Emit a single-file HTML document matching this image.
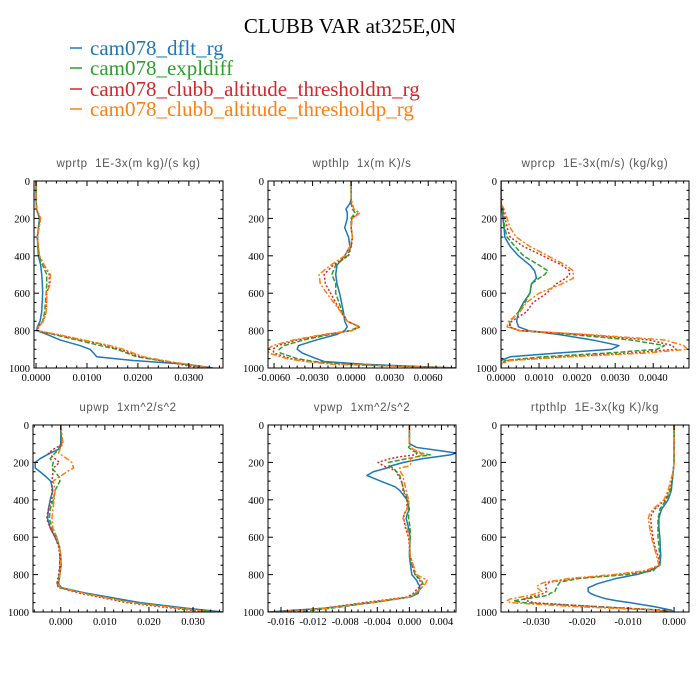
<!DOCTYPE html>
<html><head><meta charset="utf-8"><style>
html,body{margin:0;padding:0;background:#fff;}
svg{display:block;}
text{white-space:pre;}
</style></head><body>
<svg id="chart" width="700" height="700" viewBox="0 0 700 700" xmlns="http://www.w3.org/2000/svg">
<rect width="700" height="700" fill="#fff"/>
<text x="350" y="33" text-anchor="middle" font-family="Liberation Serif, serif" font-size="21" fill="#000">CLUBB VAR at325E,0N</text>
<g font-family="Liberation Serif, serif" font-size="21">
<g><line x1="70" y1="48" x2="82" y2="48" stroke="#1f77b4" stroke-width="1.5"/><text x="90" y="55" fill="#1f77b4">cam078_dflt_rg</text></g>
<g><line x1="70" y1="68" x2="82" y2="68" stroke="#2ca02c" stroke-width="1.5"/><text x="90" y="75" fill="#2ca02c">cam078_expldiff</text></g>
<g><line x1="70" y1="89" x2="82" y2="89" stroke="#d62728" stroke-width="1.5"/><text x="90" y="96" fill="#d62728">cam078_clubb_altitude_thresholdm_rg</text></g>
<g><line x1="70" y1="109" x2="82" y2="109" stroke="#ff7f0e" stroke-width="1.5"/><text x="90" y="116" fill="#ff7f0e">cam078_clubb_altitude_thresholdp_rg</text></g>
</g>
</svg>
<script>
// ---- panel 1: wprtp ----
const p1Levels = [0,100,150,200,300,400,450,500,550,600,700,750,780,800,820,850,880,900,920,940,960,980,1000];
const p1Blue = [0,0,0.0001,0.00066,0.00026,0.00046,0.00092,0.00111,0.00124,0.0013,0.00111,0.00079,0.00026,0.00013,0.0021,0.0047,0.0086,0.0106,0.0113,0.0119,0.0191,0.0296,0.0348];
const p1Green = [0,0,0.0001,0.0008,0.00026,0.0006,0.0013,0.0021,0.0021,0.002,0.0017,0.0013,0.0004,0.0002,0.0034,0.008,0.0126,0.0159,0.0178,0.0198,0.0244,0.029,0.0335];
const p1Red = [0,0,0.00013,0.0009,0.00026,0.00066,0.0016,0.0026,0.0026,0.0021,0.002,0.0014,0.00046,0.00026,0.0037,0.009,0.0139,0.0165,0.0185,0.0204,0.0244,0.0283,0.0322];
const p1Orange = [0,0,0.00013,0.0009,0.00026,0.00066,0.0016,0.0028,0.0028,0.0021,0.002,0.0014,0.00046,0.00026,0.0041,0.0093,0.0145,0.0172,0.0191,0.0211,0.025,0.0296,0.0342];
const p1Ticks = [0,0.01,0.02,0.03];
const p1TickLabels = ["0.0000","0.0100","0.0200","0.0300"];
// ---- panel 2: wpthlp ----
const p2Levels = [0,100,120,150,170,200,250,300,350,400,450,500,550,600,700,750,780,800,820,850,880,900,920,950,965,980,1000];
const p2Blue = [0,0,-0.0001,-0.0004,-0.0003,-0.0003,-0.0005,-0.0002,-0.0001,-0.0005,-0.0011,-0.0012,-0.0011,-0.0009,-0.0006,-0.0005,-0.0003,-0.0005,-0.0011,-0.0027,-0.0041,-0.0042,-0.0038,-0.0027,-0.0021,0.001,0.0082];
const p2Green = [0,0,0,0.0001,0.0003,0,0,0.0001,0,-0.0003,-0.0012,-0.0015,-0.0012,-0.0012,-0.0007,-0.0003,0.0006,-0.0001,-0.0016,-0.0037,-0.0052,-0.0056,-0.0055,-0.0042,-0.0029,-0.0003,0.0082];
const p2Red = [0,0,0.00005,0.0002,0.0006,0.00005,0,0.0001,0,-0.0002,-0.0014,-0.0021,-0.002,-0.0016,-0.0008,-0.0003,0.0007,0.00005,-0.0019,-0.0042,-0.0057,-0.0061,-0.006,-0.0047,-0.0034,-0.0011,0.0082];
const p2Orange = [0,0,0.0001,0.0002,0.0007,0.0001,0,0.0001,-0.0001,-0.0005,-0.0016,-0.0025,-0.0024,-0.0019,-0.0008,-0.0003,0.0007,0.00005,-0.0021,-0.0045,-0.0061,-0.0065,-0.0064,-0.005,-0.0036,-0.0014,0.0082];
const p2Ticks = [-0.006,-0.003,0,0.003,0.006];
const p2TickLabels = ["-0.0060","-0.0030","0.0000","0.0030","0.0060"];
// ---- panel 3: wprcp ----
const p3Levels = [0,120,150,200,250,300,350,400,450,480,500,520,550,600,650,700,750,780,800,820,850,880,900,920,940,960,980,1000];
const p3Blue = [0,0,0.00003,0.00005,0.00008,0.0001,0.00024,0.00046,0.00076,0.00088,0.00091,0.00093,0.0008,0.00076,0.00059,0.00046,0.00041,0.00046,0.00072,0.0015,0.0024,0.0031,0.0029,0.0015,0.00024,0,0,0];
const p3Green = [0,0,0.00005,0.00007,0.0001,0.00016,0.00037,0.00059,0.001,0.00123,0.00115,0.001,0.0008,0.00076,0.00063,0.00046,0.00024,0.00022,0.00046,0.0018,0.0034,0.0043,0.0041,0.0028,0.0011,0.00011,0,0];
const p3Red = [0,0,0.00005,0.00011,0.00016,0.00024,0.00059,0.0011,0.0016,0.0018,0.0018,0.0017,0.00145,0.0012,0.00084,0.00067,0.00028,0.00022,0.0005,0.00205,0.0039,0.0045,0.0046,0.0034,0.0016,0.00016,0,0];
const p3Orange = [0,0,0.00008,0.00016,0.00024,0.0004,0.00076,0.00123,0.0017,0.0019,0.0019,0.0019,0.0016,0.001,0.00067,0.0005,0.0002,0.00016,0.0005,0.0022,0.0043,0.0048,0.0049,0.0038,0.0018,0.00024,0,0];
const p3Ticks = [0,0.001,0.002,0.003,0.004];
const p3TickLabels = ["0.0000","0.0010","0.0020","0.0030","0.0040"];
// ---- panel 4: upwp ----
const p4Levels = [0,100,130,150,180,200,230,250,280,300,350,400,450,500,550,600,650,700,750,800,850,870,900,950,980,1000];
const p4Blue = [0,0,-0.0005,-0.0024,-0.0047,-0.0058,-0.0058,-0.0047,-0.0032,-0.0023,-0.0018,-0.0024,-0.0028,-0.003,-0.0024,-0.0013,-0.0003,0,0.0001,-0.0002,-0.0005,0.0002,0.0059,0.018,0.0286,0.0368];
const p4Green = [0,0.0002,-0.0003,-0.0013,-0.0024,-0.0017,-0.002,-0.0013,-0.0003,-0.0002,-0.0013,-0.0017,-0.0024,-0.0026,-0.002,-0.0009,-0.0003,-0.0002,-0.0002,-0.0003,-0.0008,-0.0002,0.0052,0.0165,0.0271,0.0355];
const p4Red = [0,0.0005,-0.0017,-0.0028,-0.0013,-0.0003,-0.0017,-0.0018,-0.0019,-0.002,-0.002,-0.002,-0.0028,-0.0032,-0.0024,-0.0013,-0.0005,-0.0002,-0.0002,-0.0005,-0.0009,-0.0005,0.0044,0.015,0.0256,0.0332];
const p4Orange = [0,0.0005,-0.0002,-0.0005,0.0014,0.0025,0.0029,0.0014,-0.0005,-0.0017,-0.0013,-0.0015,-0.0018,-0.002,-0.0018,-0.0009,-0.0003,0,0,-0.0002,-0.0005,-0.0002,0.0052,0.0161,0.0271,0.0347];
const p4Ticks = [0,0.01,0.02,0.03];
const p4TickLabels = ["0.000","0.010","0.020","0.030"];
// ---- panel 5: vpwp ----
const p5Levels = [0,100,120,140,150,160,170,180,200,220,230,250,260,270,300,330,350,400,450,480,500,550,600,700,800,830,850,860,880,900,920,950,980,1000];
const p5Blue = [0,0,0.0009,0.0042,0.0058,0.0051,0.0034,0.0017,-0.0007,-0.0024,-0.0028,-0.0045,-0.0049,-0.0053,-0.0036,-0.0018,-0.0012,-0.0003,0,-0.0003,-0.0004,-0.0001,0.0001,0,0.0003,0.0009,0.0011,0.0013,0.0012,0.0011,0.0001,-0.0049,-0.0107,-0.0177];
const p5Green = [0,0,-0.0001,0.0005,0.0013,0.0026,0.0009,-0.0003,-0.0026,-0.0025,-0.002,-0.0016,-0.0014,-0.0012,-0.001,-0.0008,-0.0007,-0.0001,-0.0001,-0.0001,-0.0001,0.0001,0.0001,0,0.0007,0.0015,0.0017,0.0017,0.0013,0.0009,0.0001,-0.0045,-0.0099,-0.014];
const p5Red = [0,0,0.0001,0.0009,0.001,0.0007,-0.0012,-0.0024,-0.0039,-0.0032,-0.0024,-0.0016,-0.0015,-0.0014,-0.001,-0.0008,-0.0008,-0.0003,-0.0003,-0.0007,-0.0007,-0.0005,-0.0001,0.0001,0.0007,0.0013,0.0015,0.0014,0.0009,0.0005,-0.0003,-0.0057,-0.0107,-0.0169];
const p5Orange = [0,0,0.0001,0.0009,0.0017,0.0015,0.0009,0.0001,0.0003,-0.0001,-0.0012,-0.0011,-0.001,-0.0008,-0.0007,-0.0005,-0.0004,-0.0001,-0.0003,-0.0007,-0.0008,-0.0003,0,0.0001,0.0009,0.0022,0.002,0.0017,0.0013,0.0007,0.0001,-0.0049,-0.0103,-0.0165];
const p5Ticks = [-0.016,-0.012,-0.008,-0.004,0,0.004];
const p5TickLabels = ["-0.016","-0.012","-0.008","-0.004","0.000","0.004"];
// ---- panel 6: rtpthlp ----
const p6Levels = [0,200,250,300,350,400,450,480,500,550,600,650,700,750,780,800,820,840,850,860,870,880,890,900,910,920,930,940,950,970,990,1000];
const p6Blue = [0,0,-0.0002,-0.0004,-0.0006,-0.0013,-0.0027,-0.0031,-0.0033,-0.0033,-0.0031,-0.003,-0.0029,-0.0031,-0.0053,-0.0082,-0.0125,-0.0154,-0.0168,-0.0177,-0.0187,-0.0187,-0.0187,-0.0182,-0.0173,-0.0161,-0.0147,-0.0125,-0.0096,-0.0046,-0.0006,0];
const p6Green = [0,0,-0.0002,-0.0004,-0.0008,-0.0017,-0.0031,-0.0033,-0.0035,-0.0035,-0.0035,-0.0033,-0.0031,-0.0033,-0.0046,-0.0103,-0.0205,-0.0248,-0.0251,-0.0254,-0.0255,-0.0258,-0.0259,-0.027,-0.0273,-0.0296,-0.0324,-0.0349,-0.0327,-0.0176,-0.0024,0];
const p6Red = [0,0,-0.0002,-0.0006,-0.0011,-0.002,-0.0042,-0.0049,-0.0051,-0.0049,-0.0046,-0.0042,-0.0035,-0.0031,-0.006,-0.0125,-0.0212,-0.027,-0.0278,-0.0281,-0.0279,-0.0277,-0.0277,-0.0284,-0.0295,-0.0313,-0.0327,-0.032,-0.0306,-0.0176,-0.0031,0];
const p6Orange = [0,0,-0.0002,-0.0008,-0.0013,-0.0022,-0.0046,-0.0054,-0.0056,-0.0053,-0.0049,-0.0044,-0.0038,-0.0033,-0.0064,-0.0132,-0.0226,-0.028,-0.0291,-0.0297,-0.0299,-0.0293,-0.0288,-0.0299,-0.0313,-0.0334,-0.0356,-0.0364,-0.0356,-0.0226,-0.0038,0];
const p6Ticks = [-0.03,-0.02,-0.01,0];
const p6TickLabels = ["-0.030","-0.020","-0.010","0.000"];

const yTicks = [0,200,400,600,800,1000];
const yTickLabels = ["0","200","400","600","800","1000"];

const NS = "http://www.w3.org/2000/svg";
const svg = document.getElementById("chart");
function mk(tag, attrs, parent){ const e=document.createElementNS(NS,tag); for(const k in attrs) e.setAttribute(k,attrs[k]); (parent||svg).appendChild(e); return e; }

const seriesStyle = [
 {c:"#1f77b4", d:"", n:"dflt"},
 {c:"#2ca02c", d:"5,2", n:"expldiff"},
 {c:"#d62728", d:"2,2", n:"thresholdm"},
 {c:"#ff7f0e", d:"6,2,2,2", n:"thresholdp"}
];

function panel(cfg){
  const g = mk("g",{});
  
  
  const xs = v => cfg.L + (v - cfg.xmin)/(cfg.xmax - cfg.xmin)*(cfg.R - cfg.L);
  const ys = p => cfg.T + p/1000*(cfg.B - cfg.T);
  const t = mk("text",{x:(cfg.L+cfg.R)/2, y:cfg.T-14, "text-anchor":"middle","font-family":"Liberation Sans, sans-serif","font-size":"11.5",fill:"#555","letter-spacing":"0.6"},g);
  t.textContent = cfg.title;
  
  
  const clipId = "clip-"+cfg.name;
  const cp = mk("clipPath",{id:clipId},g);
  mk("rect",{x:cfg.L,y:cfg.T,width:cfg.R-cfg.L,height:cfg.B-cfg.T},cp);
  const sg = mk("g",{"clip-path":"url(#"+clipId+")"},g);
  cfg.series.forEach((vals,i)=>{
    const st = seriesStyle[i];
    const pts = vals.map((v,j)=>xs(v).toFixed(2)+","+ys(cfg.levels[j]).toFixed(2)).join(" ");
    const pl = mk("polyline",{points:pts,fill:"none",stroke:st.c,"stroke-width":"1.5","stroke-dasharray":st.d,"stroke-linejoin":"round"},sg);
    
    
  });
  const fr = mk("rect",{x:cfg.L,y:cfg.T,width:cfg.R-cfg.L,height:cfg.B-cfg.T,fill:"none",stroke:"#000","stroke-width":"1"},g);
  
  
  for(let p=0;p<=1000;p+=50){
    const y=ys(p), len = (p%200===0)?5:2.5;
    mk("line",{x1:cfg.L,y1:y,x2:cfg.L+len,y2:y,stroke:"#000","stroke-width":"1"},g);
    mk("line",{x1:cfg.R,y1:y,x2:cfg.R-len,y2:y,stroke:"#000","stroke-width":"1"},g);
  }
  yTicks.forEach((p,i)=>{
    const tl = mk("text",{x:cfg.L-4,y:ys(p)+4,"text-anchor":"end","font-family":"Liberation Serif, serif","font-size":"10.5",fill:"#000"},g);
    tl.textContent = yTickLabels[i];
    
    
  });
  const step = cfg.ticks[1]-cfg.ticks[0];
  for(let k=-40;k<=40;k++){
    const v = cfg.ticks[0] + k*step/5;
    if(v < cfg.xmin-1e-12 || v > cfg.xmax+1e-12) continue;
    const x = xs(v), major = (k%5===0), len = major?5:2.5;
    mk("line",{x1:x,y1:cfg.B,x2:x,y2:cfg.B-len,stroke:"#000","stroke-width":"1"},g);
    mk("line",{x1:x,y1:cfg.T,x2:x,y2:cfg.T+len,stroke:"#000","stroke-width":"1"},g);
  }
  cfg.ticks.forEach((v,i)=>{
    const tl = mk("text",{x:xs(v),y:cfg.B+13,"text-anchor":"middle","font-family":"Liberation Serif, serif","font-size":"10.5",fill:"#000"},g);
    tl.textContent = cfg.tickLabels[i];
    
    
  });
}

panel({name:"wprtp",title:"wprtp  1E-3x(m kg)/(s kg)",L:34,R:223,T:181,B:368,xmin:-0.0004,xmax:0.0367,levels:p1Levels,series:[p1Blue,p1Green,p1Red,p1Orange],ticks:p1Ticks,tickLabels:p1TickLabels});
panel({name:"wpthlp",title:"wpthlp  1x(m K)/s",L:268,R:456,T:181,B:368,xmin:-0.00647,xmax:0.00816,levels:p2Levels,series:[p2Blue,p2Green,p2Red,p2Orange],ticks:p2Ticks,tickLabels:p2TickLabels});
panel({name:"wprcp",title:"wprcp  1E-3x(m/s) (kg/kg)",L:501,R:689,T:181,B:368,xmin:0,xmax:0.00494,levels:p3Levels,series:[p3Blue,p3Green,p3Red,p3Orange],ticks:p3Ticks,tickLabels:p3TickLabels});
panel({name:"upwp",title:"upwp  1xm^2/s^2",L:33,R:223,T:425,B:612,xmin:-0.0063,xmax:0.0368,levels:p4Levels,series:[p4Blue,p4Green,p4Red,p4Orange],ticks:p4Ticks,tickLabels:p4TickLabels});
panel({name:"vpwp",title:"vpwp  1xm^2/s^2",L:268,R:456,T:425,B:612,xmin:-0.01762,xmax:0.00581,levels:p5Levels,series:[p5Blue,p5Green,p5Red,p5Orange],ticks:p5Ticks,tickLabels:p5TickLabels});
panel({name:"rtpthlp",title:"rtpthlp  1E-3x(kg K)/kg",L:501,R:689,T:425,B:612,xmin:-0.03766,xmax:0.00325,levels:p6Levels,series:[p6Blue,p6Green,p6Red,p6Orange],ticks:p6Ticks,tickLabels:p6TickLabels});
</script>
</body></html>
